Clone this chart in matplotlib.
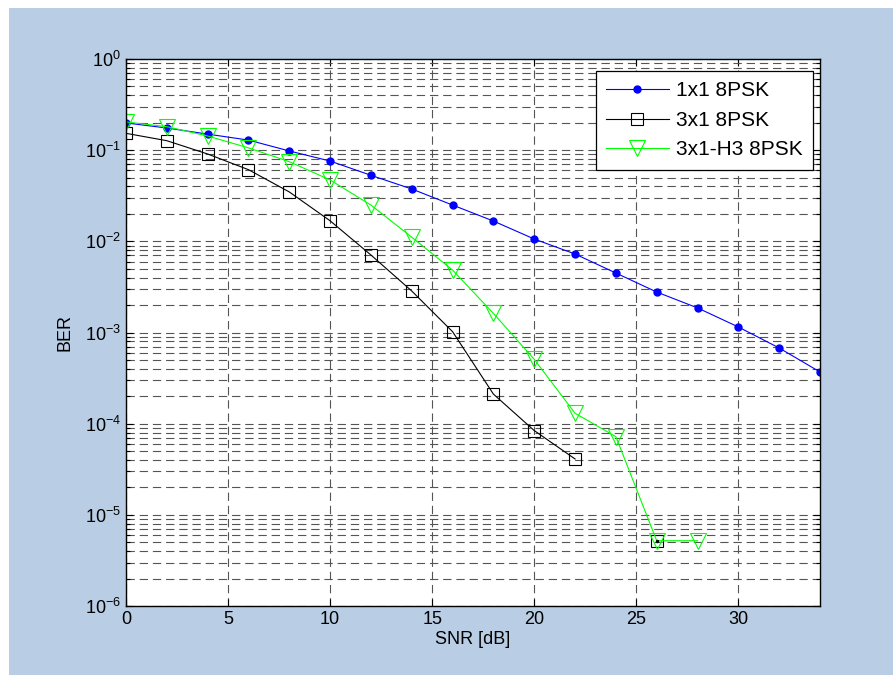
import matplotlib
matplotlib.use("Agg")
import matplotlib.pyplot as plt
from matplotlib.patches import Rectangle
import numpy as np

plt.rcParams['font.family'] = ['Liberation Sans', 'DejaVu Sans']
plt.rcParams['mathtext.fontset'] = 'custom'
plt.rcParams['mathtext.rm'] = 'Liberation Sans'
plt.rcParams['mathtext.it'] = 'Liberation Sans'
plt.rcParams['lines.scale_dashes'] = False

# data
snr_1x1 = [0, 2, 4, 6, 8, 10, 12, 14, 16, 18, 20, 22, 24, 26, 28, 30, 32, 34]
ber_1x1 = [0.199, 0.175, 0.150, 0.129, 0.098, 0.076, 0.053, 0.0375, 0.025, 0.0167,
           0.0106, 0.00726, 0.00449, 0.00278, 0.00186, 0.00115, 0.000676, 0.000369]

snr_3x1 = [0, 2, 4, 6, 8, 10, 12, 14, 16, 18, 20, 22, 24, 26]
ber_3x1 = [0.153, 0.127, 0.0908, 0.0611, 0.0348, 0.0168, 0.00708, 0.00285, 0.00102,
           0.000211, 8.4e-5, 4.1e-5, np.nan, 5.2e-6]

snr_h3 = [0, 2, 4, 6, 8, 10, 12, 14, 16, 18, 20, 22, 24, 26, 28]
ber_h3 = [0.204, 0.181, 0.143, 0.106, 0.0748, 0.0471, 0.025, 0.0111, 0.00484, 0.00162,
          0.000508, 0.00013, 7.2e-5, 5.2e-6, 5.2e-6]

fig = plt.figure(figsize=(8.93, 6.75), dpi=100, facecolor='white')
fig.patches.append(Rectangle((9 / 893, 0), 1, 667 / 675, transform=fig.transFigure,
                             facecolor='#B9CDE4', edgecolor='none', zorder=-10))

ax = fig.add_axes([126 / 893, 1 - 606 / 675, 694 / 893, 547 / 675])
ax.set_facecolor('white')

ax.semilogy(snr_1x1, ber_1x1, '-o', color='#0000FF', lw=0.8, ms=5,
            markeredgecolor='#0000FF', label='1x1 8PSK')
ax.semilogy(snr_3x1, ber_3x1, '-s', color='black', lw=0.8, ms=9,
            markerfacecolor='none', markeredgewidth=0.8, label='3x1 8PSK')
ax.semilogy(snr_h3, ber_h3, '-v', color='#00FF00', lw=0.8, ms=11,
            markerfacecolor='none', markeredgewidth=0.8, label='3x1-H3 8PSK')
ax.plot([26], [5.2e-6], '.', color='black', ms=3)

ax.set_xlim(0, 34)
ax.set_ylim(1e-6, 1)
ax.set_xticks([0, 5, 10, 15, 20, 25, 30])

ax.grid(True, which='major', axis='x', color='#555555', ls=(0, (6, 3.5)), lw=0.8)
ax.grid(True, which='both', axis='y', color='#555555', ls=(0, (6, 3.5)), lw=0.8)

ax.tick_params(which='both', direction='in', top=True, right=True, labelsize=13)
ax.tick_params(which='major', length=5, width=0.8)
ax.tick_params(which='minor', length=3, width=0.8)
for s in ax.spines.values():
    s.set_linewidth(1.0)

ax.set_xlabel('SNR [dB]', fontsize=13, labelpad=2)
ax.set_ylabel('BER', fontsize=13, labelpad=8)

leg = ax.legend(loc='upper right', bbox_to_anchor=(813 / 893, 1 - 71 / 675),
                bbox_transform=fig.transFigure, borderaxespad=0,
                fontsize=15, fancybox=False, framealpha=1, edgecolor='black',
                handlelength=3.0, handletextpad=0.35, borderpad=0.5,
                labelspacing=0.5)
leg.get_frame().set_linewidth(0.9)

fig.savefig('out.png', dpi=100)
